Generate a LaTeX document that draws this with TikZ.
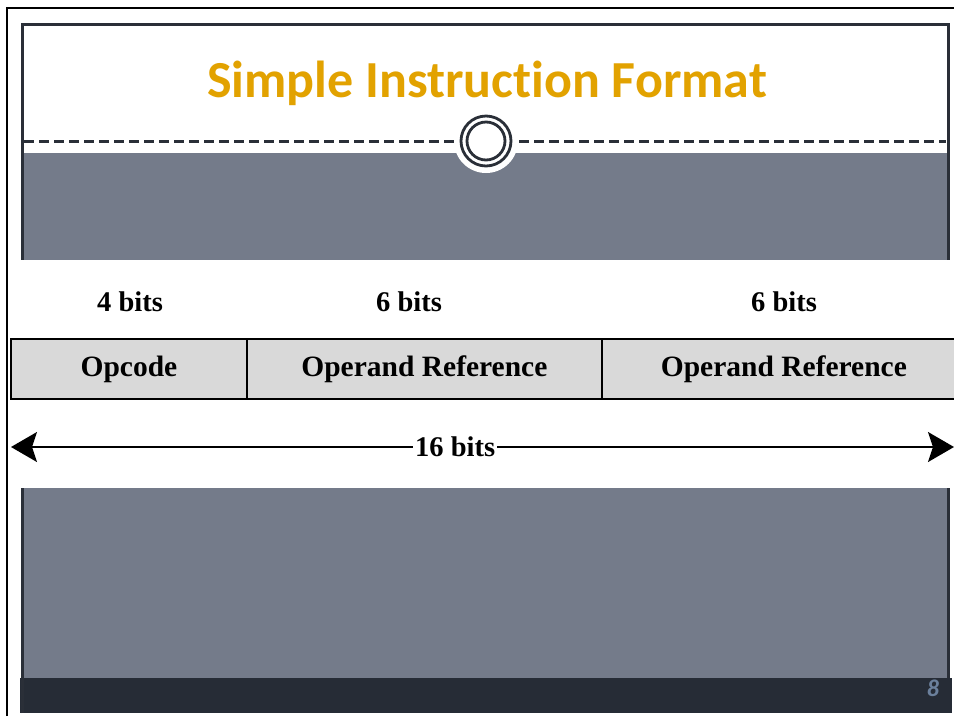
\documentclass[tikz,border=0pt]{standalone}
\usepackage{fontspec}
\setmainfont{Liberation Serif}
\newfontfamily\titlefont[Ligatures=NoCommon]{Carlito}
\usepackage{xcolor}
\usetikzlibrary{arrows.meta}

\definecolor{slideborder}{HTML}{2A2F38}
\definecolor{slidegray}{HTML}{747B8A}
\definecolor{footerdark}{HTML}{262C36}
\definecolor{titleorange}{HTML}{E2A200}
\definecolor{pagenum}{HTML}{6B809C}
\definecolor{fieldgray}{HTML}{D9D9D9}

\begin{document}
\begin{tikzpicture}[x=1pt,y=-1pt,
	field/.style={draw=black,line width=1.8pt,fill=fieldgray,minimum height=60pt,inner sep=0pt,anchor=north west,text depth=6pt,text height=22pt,font=\bfseries\fontsize{29.5}{32}\selectfont},
	bitcount/.style={font=\bfseries\fontsize{28.5}{32}\selectfont}]
	\useasboundingbox (0,0) rectangle (954,716);
	\fill[white] (0,0) rectangle (954,716);
	
	% frame and slide background
	\draw[black,line width=2pt] (7,716) -- (7,8) -- (954,8);
	\fill[slidegray] (22,24) rectangle (948,712);
	\fill[white] (22,24) rectangle (948,153);
	\fill[footerdark] (20,678) rectangle (952,713);
	\draw[slideborder,line width=3pt] (22,713) -- (22,24) -- (948,24) -- (948,678);
	\draw[slideborder,line width=3pt,dash pattern=on 10pt off 5pt] (24,141) -- (946,141);
	\fill[white] (486,141) circle (32);
	\draw[slideborder,line width=2.8pt] (486,141) circle (25);
	\draw[slideborder,line width=2.8pt] (486,141) circle (19);
	\node[text=titleorange,font=\titlefont\bfseries\fontsize{52}{58}\selectfont] (title) at (487,83) {Simple Instruction Format};
	\node[text=pagenum,font=\titlefont\bfseries\itshape\fontsize{24}{28}\selectfont] (page) at (933,688) {8};
	
	% instruction fields
	\fill[white] (9,260) rectangle (954,488);
	\node[field,minimum width=236pt] (opcode) at (10,338) {Opcode};
	\node[field,minimum width=355pt] (opref1) at (246,338) {Operand Reference};
	\node[field,minimum width=364pt] (opref2) at (601,338) {Operand Reference};
	\node[bitcount] (bits1) at (130,302) {4 bits};
	\node[bitcount] (bits2) at (409,302) {6 bits};
	\node[bitcount] (bits3) at (784,302) {6 bits};
	
	\coordinate (lend) at (11,447);
	\coordinate (rend) at (954,447);
	\draw[line width=1.8pt,{Stealth[length=26pt,width=30pt,inset=5pt]}-{Stealth[length=26pt,width=30pt,inset=5pt]}] (lend) -- (rend) node[bitcount,pos=0.471,fill=white,inner sep=2pt] (total) {16 bits};
\end{tikzpicture}
\end{document}
